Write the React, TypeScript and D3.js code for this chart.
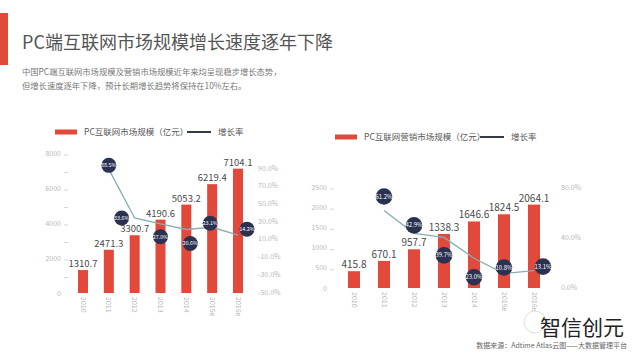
import React from "react";
import * as d3 from "d3";

const years = ["2010", "2011", "2012", "2013", "2014", "2015e", "2016e"];
const pcMarket = [1310.7, 2471.3, 3300.7, 4190.6, 5053.2, 6219.4, 7104.1];
const pcGrowth = [null, 88.5, 33.6, 27.0, 20.6, 23.1, 14.2];
const adMarket = [415.8, 670.1, 957.7, 1338.3, 1646.6, 1824.5, 2064.1];
const adGrowth = [null, 61.2, 42.9, 39.7, 23.0, 10.8, 13.1];

const leftTicksL = [0, 2000, 4000, 6000, 8000];
const leftMinorL = [1000, 2000, 3000, 4000, 5000, 6000, 7000, 8000];
const rightTicksL = [-50, -30, -10, 10, 30, 50, 70, 90];
const leftTicksR = [0, 500, 1000, 1500, 2000, 2500];
const rightTicksR = [0, 40, 80];

const title = "PC端互联网市场规模增长速度逐年下降";
const subtitle1 = "中国PC端互联网市场规模及营销市场规模近年来均呈现稳步增长态势，";
const subtitle2 = "但增长速度逐年下降，预计长期增长趋势将保持在10%左右。";
const legendBarL = "PC互联网市场规模（亿元）";
const legendBarR = "PC互联网营销市场规模（亿元）";
const legendLine = "增长率";
const source = "数据来源：Adtime Atlas云图——大数据管理平台";
const brand = "智信创元";

const FONT = "'Noto Sans CJK SC', 'Noto Sans', sans-serif";
const RED = "#e2493a";
const NAVY = "#2b3150";
const LINE = "#86aeb0";
const AXIS_TXT = "#b8b8b8";

// label nudges (pixels) for growth-rate bubbles
const nudgeL = [[0, 0], [0, -4], [-13, 0], [0, 13], [4, 14], [-2, -4], [9, -6]];
const nudgeR = [[0, 0], [0, -14], [0, -8], [0, 18], [0, 19], [0, -6], [9, -4]];

type ChartProps = {
  values: number[];
  growth: (number | null)[];
  x0: number; x1: number;
  yBase: number; yTop: number; yMax: number;
  ryDomain: [number, number]; ryRange: [number, number];
  leftTicks: number[]; minorTicks: number[]; rightTicks: number[];
  leftLabelX: number; rightLabelX: number;
  barW: number; bubbleR: number; nudge: number[][];
  legendY: number; legendX: number; legendText: string; legendLineX: number;
  valueFont: number; rightFmt: (v: number) => string;
};

function Chart(p: ChartProps) {
  const x = d3.scalePoint<string>().domain(years).range([p.x0, p.x1]);
  const y = d3.scaleLinear().domain([0, p.yMax]).range([p.yBase, p.yTop]);
  const ry = d3.scaleLinear().domain(p.ryDomain).range(p.ryRange);
  const pts = years
    .map((yr, i) => ({ yr, g: p.growth[i], i }))
    .filter((d) => d.g !== null) as { yr: string; g: number; i: number }[];
  const line = d3
    .line<{ yr: string; g: number }>()
    .x((d) => x(d.yr)!)
    .y((d) => ry(d.g));
  return (
    <g fontFamily={FONT}>
      {/* legend */}
      <rect x={p.legendX} y={p.legendY - 2.5} width={22} height={5} fill={RED} />
      <text x={p.legendX + 29} y={p.legendY + 3} fontSize={8.5} fill="#555">{p.legendText}</text>
      <line x1={p.legendLineX} x2={p.legendLineX + 24} y1={p.legendY} y2={p.legendY} stroke="#333a48" strokeWidth={2} />
      <text x={p.legendLineX + 31} y={p.legendY + 3} fontSize={8.5} fill="#555">{legendLine}</text>

      {/* left axis */}
      {p.leftTicks.map((t) => (
        <text key={"l" + t} x={p.leftLabelX} y={y(t) + 2.5} fontSize={7} fill={AXIS_TXT} textAnchor="end">{t}</text>
      ))}
      {p.minorTicks.map((t) => (
        <line key={"m" + t} x1={p.leftLabelX + 3} x2={p.leftLabelX + 7} y1={y(t) + 2} y2={y(t) + 2} stroke="#ccc" strokeWidth={0.8} />
      ))}
      {/* right axis */}
      {p.rightTicks.map((t) => (
        <text key={"r" + t} x={p.rightLabelX} y={ry(t) + 2.5} fontSize={7} fill={AXIS_TXT}>{p.rightFmt(t)}</text>
      ))}

      {/* bars */}
      {p.values.map((v, i) => (
        <g key={"b" + i}>
          <rect x={x(years[i])! - p.barW / 2} y={y(v)} width={p.barW} height={p.yBase - y(v)} fill={RED} />
          <text x={x(years[i])!} y={y(v) - 3} fontSize={p.valueFont} fill="#4a4a4a" textAnchor="middle">{v.toFixed(1)}</text>
        </g>
      ))}

      {/* x labels */}
      {years.map((yr) => (
        <text key={"x" + yr} transform={`translate(${x(yr)! - 2.5},${p.yBase + 4}) rotate(90)`} fontSize={7} fill={AXIS_TXT}>{yr}</text>
      ))}

      {/* growth line */}
      <path d={line(pts)!} fill="none" stroke={LINE} strokeWidth={1.3} />
      {pts.map((d) => (
        <g key={"c" + d.yr} transform={`translate(${x(d.yr)! + p.nudge[d.i][0]},${ry(d.g) + p.nudge[d.i][1]})`}>
          <circle r={p.bubbleR} fill={NAVY} />
          <text y={2} fontSize={p.bubbleR * 0.72} fill="#fff" textAnchor="middle">{d.g.toFixed(1) + "%"}</text>
        </g>
      ))}
    </g>
  );
}

export default function App() {
  return (
    <svg width={640} height={359} style={{ position: "absolute", left: 0, top: 0, background: "#fff" }}>
      <rect width={640} height={359} fill="#fff" />
      <rect x={0} y={13} width={8} height={52} fill="#e04b38" />
      <text x={22} y={49} fontFamily={FONT} fontSize={18} fill="#555">{title}</text>
      <text x={22} y={75} fontFamily={FONT} fontSize={8.3} fill="#777">{subtitle1}</text>
      <text x={22} y={89} fontFamily={FONT} fontSize={8.3} fill="#777">{subtitle2}</text>

      <Chart
        values={pcMarket} growth={pcGrowth}
        x0={83} x1={238} yBase={293} yTop={153} yMax={8000}
        ryDomain={[-50, 90]} ryRange={[292, 168]}
        leftTicks={leftTicksL} minorTicks={leftMinorL} rightTicks={rightTicksL}
        leftLabelX={61} rightLabelX={258}
        barW={10} bubbleR={7.5} nudge={nudgeL}
        legendY={132} legendX={55} legendText={legendBarL} legendLineX={187}
        valueFont={9.5} rightFmt={(v) => v.toFixed(1) + "%"}
      />
      <Chart
        values={adMarket} growth={adGrowth}
        x0={354} x1={534} yBase={288} yTop={187} yMax={2500}
        ryDomain={[0, 80]} ryRange={[287, 187]}
        leftTicks={leftTicksR} minorTicks={[500, 1000, 1500, 2000, 2500]} rightTicks={rightTicksR}
        leftLabelX={327} rightLabelX={561}
        barW={12} bubbleR={8.3} nudge={nudgeR}
        legendY={137} legendX={335} legendText={legendBarR} legendLineX={480}
        valueFont={10} rightFmt={(v) => v.toFixed(1) + "%"}
      />

      <g fontFamily={FONT}>
        <circle cx={535} cy={322} r={11} fill="none" stroke="#ddd" strokeWidth={1} />
        <text x={540} y={335} fontSize={21} fill="#222">{brand}</text>
        <text x={627} y={348} fontSize={7} fill="#666" textAnchor="end">{source}</text>
      </g>
    </svg>
  );
}
